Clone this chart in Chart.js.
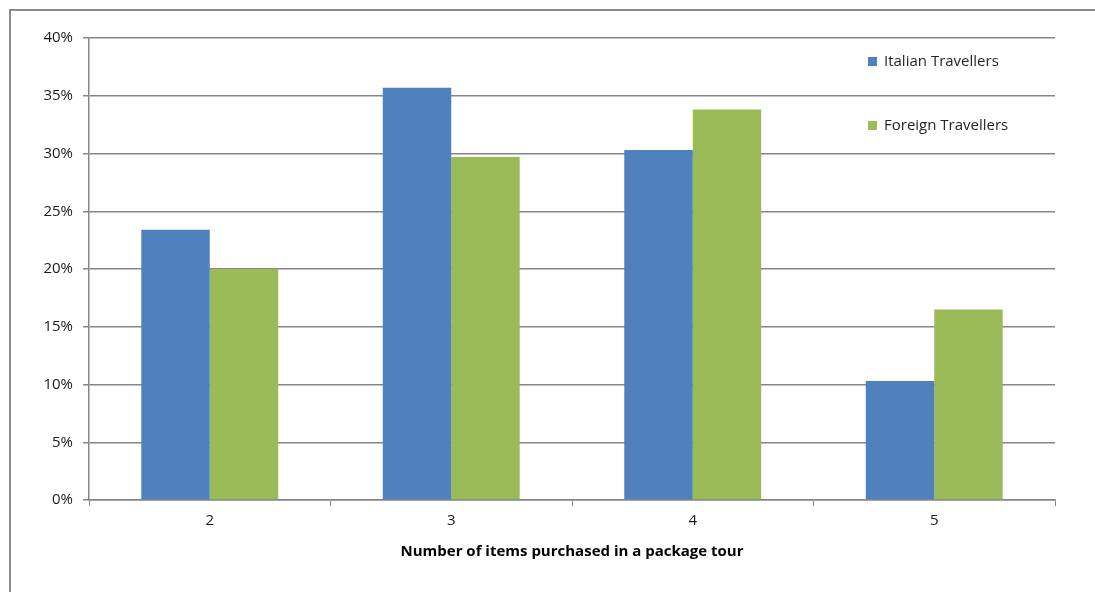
<!DOCTYPE html>
<html>
<head>
<meta charset="utf-8">
<script src="https://cdn.jsdelivr.net/npm/chart.js@4"></script>
<style>
  html, body { margin: 0; padding: 0; background: #fff; }
  #wrap { width: 1095px; height: 592px; position: relative; }
</style>
</head>
<body>
<div id="wrap"><canvas id="myChart"></canvas></div>
<script>
const categories = ['2', '3', '4', '5'];
const italianTravellers = [23.4, 35.7, 30.3, 10.3];
const foreignTravellers = [20.0, 29.7, 33.8, 16.5];
const seriesNames = ['Italian Travellers', 'Foreign Travellers'];
const axisTitle = 'Number of items purchased in a package tour';

const gridColor = '#868686';
const fontFamily = '"Open Sans", "Noto Sans", sans-serif';

// grey frame on the top and left of the picture
const framePlugin = {
    id: 'frame',
    beforeDraw(chart) {
        const c = chart.ctx;
        c.save();
        c.strokeStyle = '#8a8a8a';
        c.lineWidth = 2;
        c.beginPath();
        c.moveTo(10, 592);
        c.lineTo(10, 10);
        c.lineTo(1095, 10);
        c.stroke();
        c.restore();
    }
};

// legend drawn inside the plot, top right, with wide spacing
const legendPlugin = {
    id: 'insideLegend',
    afterDraw(chart) {
        const c = chart.ctx;
        const area = chart.chartArea;
        c.save();
        c.font = '15px ' + fontFamily;
        c.textBaseline = 'middle';
        chart.data.datasets.forEach(function(ds, i) {
            const x = area.right - 187;
            const y = area.top + 24 + i * 64;
            c.fillStyle = ds.backgroundColor;
            c.fillRect(x, y - 5, 9, 9);
            c.fillStyle = '#262626';
            c.fillText(ds.label, x + 16, y);
        });
        c.restore();
    }
};

const ctx = document.getElementById('myChart').getContext('2d');
const myChart = new Chart(ctx, {
    type: 'bar',
    data: {
        labels: categories,
        datasets: [{
            label: seriesNames[0],
            data: italianTravellers,
            backgroundColor: '#4F81BD',
            categoryPercentage: 0.567,
            barPercentage: 1.0
        }, {
            label: seriesNames[1],
            data: foreignTravellers,
            backgroundColor: '#9BBB59',
            categoryPercentage: 0.567,
            barPercentage: 1.0
        }]
    },
    options: {
        responsive: true,
        maintainAspectRatio: false,
        animation: false,
        layout: { padding: { left: 10, top: 38, right: 40, bottom: 0 } },
        plugins: {
            legend: { display: false },
            tooltip: { enabled: false }
        },
        scales: {
            x: {
                grid: {
                    offset: true,
                    drawOnChartArea: false,
                    drawTicks: true,
                    tickLength: 6,
                    color: gridColor
                },
                border: { color: gridColor, width: 1.5 },
                ticks: { color: '#1a1a1a', font: { family: fontFamily, size: 15 }, padding: 6 },
                title: {
                    display: true,
                    text: axisTitle,
                    color: '#000',
                    font: { family: fontFamily, size: 15, weight: 'bold' },
                    padding: { top: 4, bottom: 31 }
                },
                afterFit(scale) { scale.height = 92; }
            },
            y: {
                min: 0,
                max: 40,
                ticks: {
                    stepSize: 5,
                    color: '#1a1a1a',
                    font: { family: fontFamily, size: 15 },
                    padding: 10,
                    callback: function(v) { return v + '%'; }
                },
                grid: {
                    color: gridColor,
                    lineWidth: 1.5,
                    tickLength: 6
                },
                border: { color: gridColor, width: 1.5 },
                afterFit(scale) { scale.width = 79; }
            }
        }
    },
    plugins: [framePlugin, legendPlugin]
});
</script>
</body>
</html>
